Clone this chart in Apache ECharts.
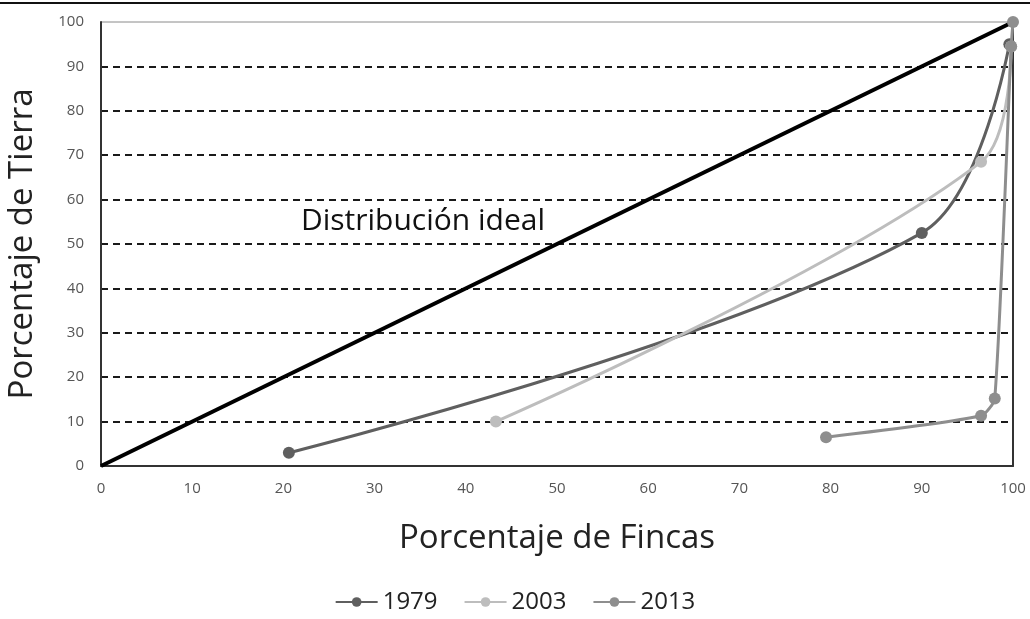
<!DOCTYPE html>
<html>
<head>
<meta charset="utf-8">
<script src="https://cdn.jsdelivr.net/npm/echarts@6/dist/echarts.min.js"></script>
<style>
  html, body { margin: 0; padding: 0; background: #fff; }
  #chart { width: 1030px; height: 619px; }
</style>
</head>
<body>
<div id="chart"></div>
<script>
// datos (x = % de fincas, y = % de tierra)
var idealData = [[0, 0], [100, 100]];
var data1979 = [[20.6, 3], [90, 52.5], [99.6, 95]];
var data2003 = [[43.3, 10], [96.5, 68.5], [99.8, 94.5]];
var data2013 = [[79.5, 6.5], [96.5, 11.3], [98, 15.2], [99.8, 94.5], [100, 100]];
var seriesNames = ["1979", "2003", "2013"];
var idealLabel = "Distribución ideal";
var idealLabelPos = [35.3, 55];

var chart = echarts.init(document.getElementById("chart"));
var font = "'Open Sans', Lato, sans-serif";

var option = {
  backgroundColor: "#fff",
  animation: false,
  textStyle: { fontFamily: font },
  graphic: [
    {
      type: "line",
      shape: { x1: 0, y1: 3, x2: 1030, y2: 3 },
      style: { stroke: "#111", lineWidth: 2 }
    }
  ],
  grid: {
    left: 101,
    right: 17,
    top: 22,
    bottom: 153,
    outerBoundsMode: "none",
    show: true,
    borderColor: "#8a8a8a",
    borderWidth: 1
  },
  legend: {
    bottom: 0,
    left: "center",
    itemWidth: 42,
    itemHeight: 12,
    itemGap: 26,
    data: seriesNames,
    textStyle: { fontSize: 24, color: "#222", fontFamily: font }
  },
  xAxis: {
    type: "value",
    min: 0,
    max: 100,
    interval: 10,
    name: "Porcentaje de Fincas",
    nameLocation: "middle",
    nameGap: 56,
    nameTextStyle: { fontSize: 33, color: "#222", fontFamily: font },
    axisLine: { lineStyle: { color: "#333", width: 2 } },
    axisTick: { show: false },
    axisLabel: { fontSize: 15, color: "#555", margin: 15 },
    splitLine: { show: false }
  },
  yAxis: [
    {
      type: "value",
      min: 0,
      max: 100,
      interval: 10,
      name: "Porcentaje de Tierra",
      nameLocation: "middle",
      nameGap: 62,
      nameTextStyle: { fontSize: 33, color: "#222", fontFamily: font },
      axisLine: { show: true, lineStyle: { color: "#333", width: 2 } },
      axisTick: { show: false },
      axisLabel: { fontSize: 15, color: "#555", margin: 17 },
      splitLine: {
        show: true,
        showMinLine: false,
        showMaxLine: false,
        lineStyle: { color: "#1a1a1a", width: 2, type: [7, 5] }
      }
    },
    {
      type: "value",
      min: 0,
      max: 100,
      position: "right",
      axisLine: { show: true, lineStyle: { color: "#333", width: 2 } },
      axisTick: { show: false },
      axisLabel: { show: false },
      splitLine: { show: false }
    }
  ],
  series: [
    {
      name: "ideal",
      type: "line",
      data: idealData,
      showSymbol: false,
      silent: true,
      lineStyle: { color: "#000", width: 4 },
      z: 3,
      markPoint: {
        symbolSize: 0,
        data: [{ coord: idealLabelPos }],
        label: {
          show: true,
          formatter: idealLabel,
          fontSize: 30,
          color: "#111",
          fontFamily: font
        }
      }
    },
    {
      name: "1979",
      type: "line",
      data: data1979,
      smooth: 0.35,
      symbol: "circle",
      symbolSize: 12,
      itemStyle: { color: "#5f5f5f" },
      lineStyle: { color: "#5f5f5f", width: 3 },
      z: 4
    },
    {
      name: "2003",
      type: "line",
      data: data2003,
      smooth: 0.35,
      symbol: "circle",
      symbolSize: 12,
      itemStyle: { color: "#bdbdbd" },
      lineStyle: { color: "#bdbdbd", width: 3 },
      z: 5
    },
    {
      name: "2013",
      type: "line",
      data: data2013,
      smooth: 0.2,
      symbol: "circle",
      symbolSize: 12,
      itemStyle: { color: "#8e8e8e" },
      lineStyle: { color: "#8e8e8e", width: 3 },
      z: 6
    }
  ]
};

chart.setOption(option);
</script>
</body>
</html>
